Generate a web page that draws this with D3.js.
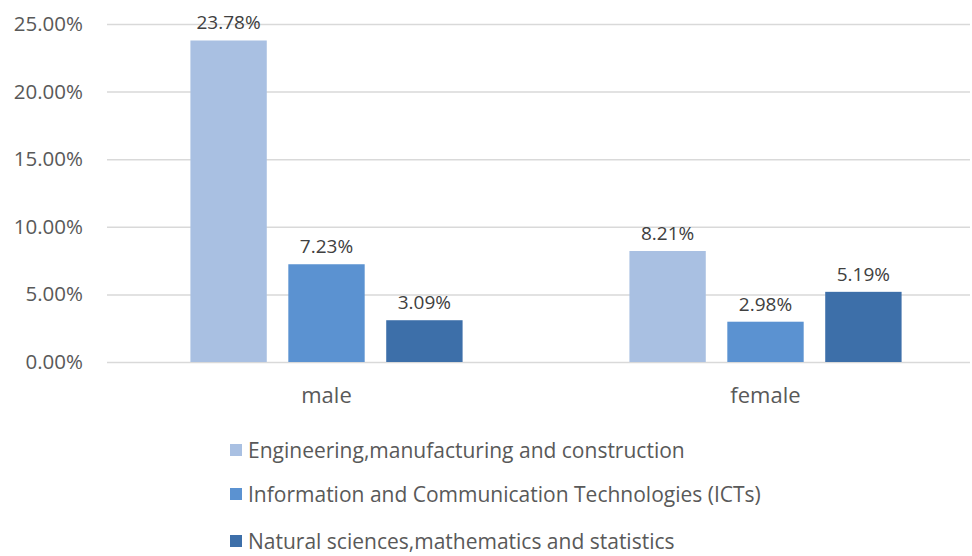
<!DOCTYPE html>
<html>
<head>
<meta charset="utf-8">
<script src="https://d3js.org/d3.v7.min.js"></script>
<style>
  body { margin: 0; background: #fff; }
  text { font-family: "Open Sans", sans-serif; }
</style>
</head>
<body>
<svg id="chart" width="972" height="556"></svg>
<script>
// data
const groups = ["male", "female"];
const series = ["Engineering,manufacturing and construction",
                "Information and Communication Technologies (ICTs)",
                "Natural sciences,mathematics and statistics"];
const maleVals = [23.78, 7.23, 3.09];
const femaleVals = [8.21, 2.98, 5.19];
const yTicks = [0, 5, 10, 15, 20, 25];
const colors = ["#a9c0e2", "#5b92d1", "#3d6fa9"];

const svg = d3.select("#chart");
const valsByGroup = { male: maleVals, female: femaleVals };

const x0 = d3.scaleBand().domain(groups).range([107, 985])
             .paddingInner(0.38).paddingOuter(0.19);
const x1 = d3.scaleBand().domain(d3.range(series.length))
             .range([0, x0.bandwidth()]).paddingInner(0.22);
const y = d3.scaleLinear().domain([0, 25]).range([362, 24]);

// gridlines
const yAxis = d3.axisLeft(y).tickValues(yTicks).tickSize(-(970 - 107))
               .tickFormat(d => d.toFixed(2) + "%").tickPadding(24);
const ga = svg.append("g").attr("transform", "translate(107,0)").call(yAxis);
ga.select(".domain").remove();
ga.selectAll("line").attr("stroke", "#d9d9d9").attr("stroke-width", 1.5);
ga.selectAll("text").attr("fill", "#595959").style("font-size", "20.5px");

// bars
const g = svg.selectAll("g.grp").data(groups).join("g")
  .attr("class", "grp")
  .attr("transform", d => "translate(" + x0(d) + ",0)");

g.selectAll("rect").data(d => valsByGroup[d].map((v, i) => ({ v, i })))
  .join("rect")
  .attr("x", d => x1(d.i))
  .attr("width", x1.bandwidth())
  .attr("y", d => y(d.v))
  .attr("height", d => y(0) - y(d.v))
  .attr("fill", d => colors[d.i]);

g.selectAll("text.lbl").data(d => valsByGroup[d].map((v, i) => ({ v, i })))
  .join("text")
  .attr("class", "lbl")
  .attr("x", d => x1(d.i) + x1.bandwidth() / 2)
  .attr("y", d => y(d.v) - 11)
  .attr("text-anchor", "middle")
  .attr("fill", "#404040")
  .style("font-size", "19px")
  .text(d => d.v.toFixed(2) + "%");

// category labels
svg.selectAll("text.cat").data(groups).join("text")
  .attr("class", "cat")
  .attr("x", d => x0(d) + x0.bandwidth() / 2)
  .attr("y", 403)
  .attr("text-anchor", "middle")
  .attr("fill", "#595959")
  .style("font-size", "22px")
  .text(d => d);

// legend
const leg = svg.selectAll("g.leg").data(series).join("g")
  .attr("class", "leg")
  .attr("transform", (d, i) => "translate(230," + [450, 494, 541][i] + ")");
leg.append("rect").attr("x", 0).attr("y", -6).attr("width", 12).attr("height", 12)
  .attr("fill", (d, i) => colors[i]);
leg.append("text").attr("x", 18).attr("y", 7.5)
  .attr("fill", "#595959").style("font-size", "21px")
  .text(d => d);
</script>
</body>
</html>
